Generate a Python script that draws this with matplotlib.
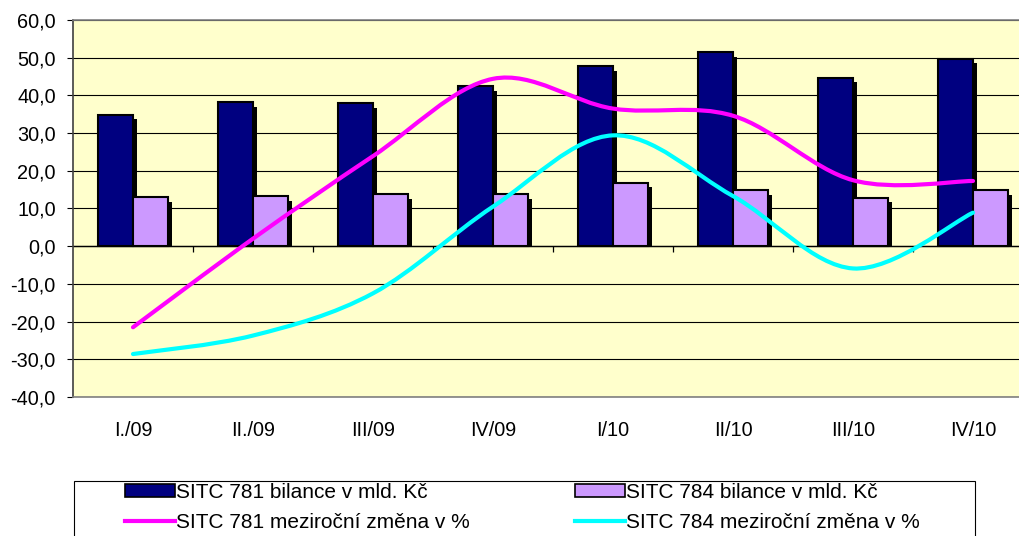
import numpy as np
import matplotlib
matplotlib.use("Agg")
import matplotlib.pyplot as plt
from matplotlib.path import Path
from matplotlib.patches import PathPatch, Rectangle
from matplotlib.lines import Line2D
from matplotlib.ticker import FuncFormatter

plt.rcParams['font.family'] = ['Liberation Sans', 'DejaVu Sans']

# data
quarters = ['I./09', 'II./09', 'III/09', 'IV/09', 'I/10', 'II/10', 'III/10', 'IV/10']
bal_781 = [34.9, 38.2, 37.9, 42.4, 47.7, 51.4, 44.7, 49.7]
bal_784 = [13.0, 13.3, 13.8, 13.8, 16.8, 14.9, 12.9, 14.9]
chg_781 = [-21.5, 2.0, 23.9, 44.4, 36.5, 34.6, 17.5, 17.3]
chg_784 = [-28.6, -23.7, -12.5, 10.5, 29.4, 13.3, -5.9, 8.9]

navy = '#000080'
lavender = '#CC99FF'
magenta = '#FF00FF'
cyan = '#00FFFF'
fs = 14.3
fs_leg = 15


def smooth_path(xs, ys):
    # excel-like smoothing: catmull-rom segments as cubic beziers
    pts = np.column_stack([xs, ys]).astype(float)
    n = len(pts)
    verts = [pts[0]]
    codes = [Path.MOVETO]
    for i in range(n - 1):
        p0 = pts[max(i - 1, 0)]
        p1 = pts[i]
        p2 = pts[i + 1]
        p3 = pts[min(i + 2, n - 1)]
        c1 = p1 + (p2 - p0) / 6.0
        c2 = p2 - (p3 - p1) / 6.0
        verts += [c1, c2, p2]
        codes += [Path.CURVE4] * 3
    return Path(verts, codes)


fig = plt.figure(figsize=(10.2, 5.36), dpi=100)
ax = fig.add_axes([73 / 1020, 1 - 397 / 536, 960 / 1020, 377 / 536])
ax.set_facecolor('#FFFFCC')

x = np.arange(len(quarters))
w = 0.29
sdx, sdy = 0.036, 1.2

# shadows first
ax.bar(x - w / 2 + sdx, np.array(bal_781) - sdy, w, color='black', zorder=2)
ax.bar(x + w / 2 + sdx, np.array(bal_784) - sdy, w, color='black', zorder=2)
ax.bar(x - w / 2, bal_781, w, color=navy, edgecolor='black', linewidth=1.5, zorder=3)
ax.bar(x + w / 2, bal_784, w, color=lavender, edgecolor='black', linewidth=1.5, zorder=3)

for vals, col in [(chg_781, magenta), (chg_784, cyan)]:
    ax.add_patch(PathPatch(smooth_path(x, vals), facecolor='none', edgecolor=col,
                           linewidth=3.0, capstyle='round', zorder=4))

ax.set_xlim(-0.5, 7.5)
ax.set_ylim(-40, 60)
ax.set_yticks(np.arange(-40, 61, 10))
ax.yaxis.set_major_formatter(FuncFormatter(lambda v, p: f'{v:.1f}'.replace('.', ',')))
ax.yaxis.grid(True, color='black', linewidth=0.8, zorder=1)
ax.set_axisbelow(True)
ax.axhline(0, color='black', linewidth=1.0, zorder=2.5)
ax.vlines(np.arange(0.5, 7.5, 1), 0, -1.6, color='black', linewidth=0.9, zorder=2.5)

ax.set_xticks(x)
ax.set_xticklabels(quarters)
ax.tick_params(axis='x', length=0, pad=17, labelsize=fs)
ax.tick_params(axis='y', length=4.5, width=0.8, pad=8, labelsize=fs, direction='out')

for s in ax.spines.values():
    s.set_color('#808080')
    s.set_linewidth(1.2)
ax.spines['left'].set_color('#404040')

# legend box
fig.patches.append(Rectangle((74 / 1020, -0.01), (975 - 74) / 1020, 1 - 481 / 536 + 0.01,
                             transform=fig.transFigure, facecolor='white',
                             edgecolor='black', linewidth=0.8))
h_781 = [Rectangle((0, 0), 1, 1, facecolor=navy, edgecolor='black', linewidth=1.2),
         Line2D([], [], color=magenta, linewidth=3)]
h_784 = [Rectangle((0, 0), 1, 1, facecolor=lavender, edgecolor='black', linewidth=1.2),
         Line2D([], [], color=cyan, linewidth=3)]
lab_781 = ['SITC 781 bilance v mld. Kč', 'SITC 781 meziroční změna v %']
lab_784 = ['SITC 784 bilance v mld. Kč', 'SITC 784 meziroční změna v %']
for hs, ls, x0 in [(h_781, lab_781, 125), (h_784, lab_784, 575)]:
    fig.legend(hs, ls, ncol=1, frameon=False, fontsize=fs_leg,
               loc='upper left', bbox_to_anchor=(x0 / 1020, 1 - 483 / 536),
               handlelength=2.4, handleheight=0.62, handletextpad=0.06,
               labelspacing=0.55, borderaxespad=0, borderpad=0)

fig.savefig('out.png', dpi=100)
